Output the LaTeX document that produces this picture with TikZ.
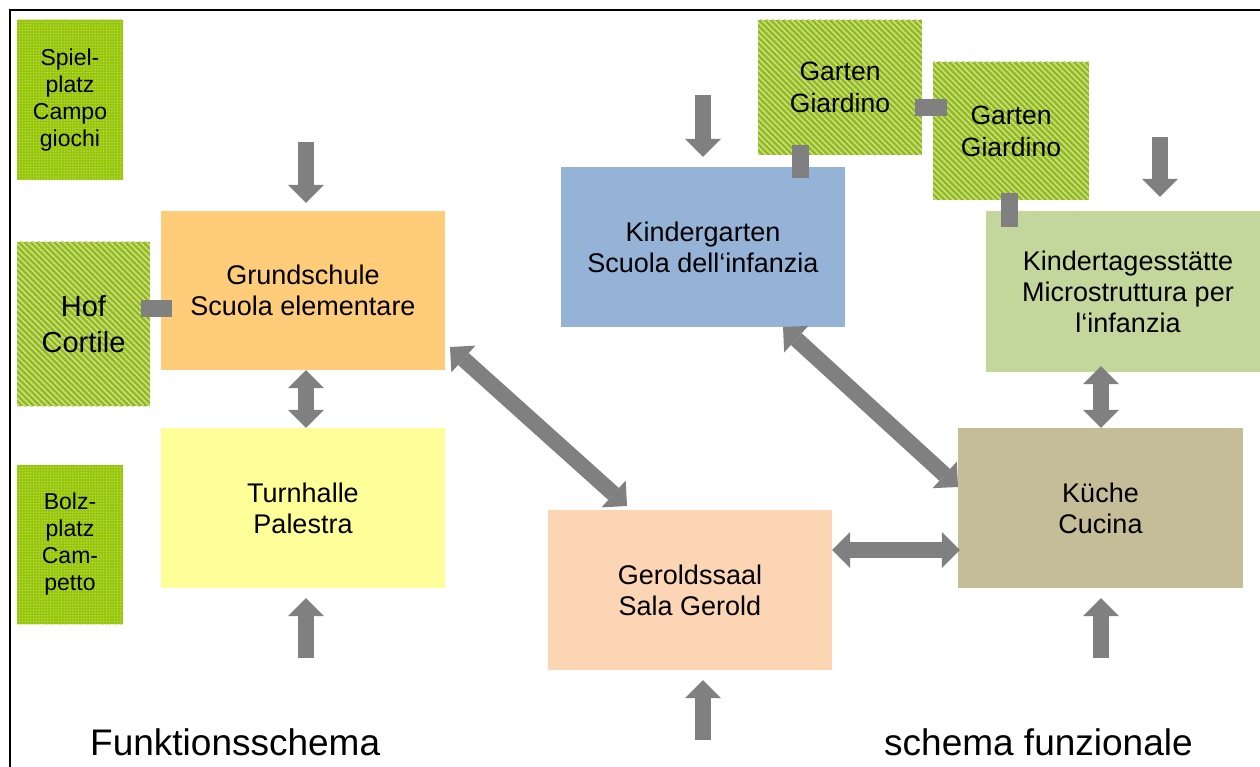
\documentclass[tikz,border=0pt]{standalone}
\usepackage{fontspec}
\setmainfont{Liberation Sans}
\usetikzlibrary{arrows.meta,patterns.meta}
\definecolor{gsorange}{HTML}{FFCC79}
\definecolor{thyellow}{HTML}{FFFF99}
\definecolor{kgblue}{HTML}{95B3D7}
\definecolor{kitagreen}{HTML}{C3D69B}
\definecolor{kuechetan}{HTML}{C4BD97}
\definecolor{geroldpeach}{HTML}{FCD5B5}
\definecolor{arrowgray}{HTML}{808080}
\definecolor{dotgreen}{HTML}{96C60A}
\definecolor{dotlight}{HTML}{BEDC50}
\definecolor{hatchgreen}{HTML}{88C016}
\definecolor{hatchlight}{HTML}{D6D68E}
\begin{document}
\begin{tikzpicture}[x=1pt,y=-1pt,
  box/.style={rectangle, inner sep=0pt, align=center, font=\fontsize{27}{31}\selectfont},
  dotbox/.style={box, preaction={fill=dotgreen}, pattern={Dots[radius=0.8pt, distance=2.8pt]}, pattern color=dotlight, font=\fontsize{23}{27}\selectfont},
  hatchbox/.style={box, preaction={fill=hatchgreen}, pattern={Lines[angle=-45, distance=4.2pt, line width=1.6pt]}, pattern color=hatchlight},
  stub/.style={draw=arrowgray, line width=17pt},
  barrow/.style={draw=arrowgray, line width=16pt, -{Triangle[length=18pt, width=36pt, line width=0pt]}},
  dbarrow/.style={draw=arrowgray, line width=16pt, {Triangle[length=18pt, width=36pt, line width=0pt]}-{Triangle[length=18pt, width=36pt, line width=0pt]}},
  caption/.style={inner sep=0pt, anchor=base west, font=\fontsize{37}{44}\selectfont}
]
\useasboundingbox (0,0) rectangle (1260,767);
\fill[white] (0,0) rectangle (1260,767);
\draw[line width=2pt] (1275,10) -- (10,10) -- (10,780);

% green outdoor areas
\node[dotbox, minimum width=106pt, minimum height=160pt] (spiel) at (70,100) {Spiel-\\platz\\Campo\\giochi};
\node[hatchbox, minimum width=133pt, minimum height=164pt, font=\fontsize{29}{36}\selectfont] (hof) at (83.5,324) {Hof\\Cortile};
\node[dotbox, minimum width=106pt, minimum height=159pt] (bolz) at (70,544.5) {Bolz-\\platz\\Cam-\\petto};
\node[hatchbox, minimum width=164pt, minimum height=135pt, font=\fontsize{26.5}{32}\selectfont] (g1) at (840,87.5) {Garten\\Giardino};
\node[hatchbox, minimum width=156pt, minimum height=138pt, font=\fontsize{26.5}{32}\selectfont] (g2) at (1011,131) {Garten\\Giardino};

% rooms
\node[box, fill=gsorange, minimum width=284pt, minimum height=159pt] (gs) at (303,290.5) {Grundschule\\Scuola elementare};
\node[box, fill=thyellow, minimum width=284pt, minimum height=160pt] (th) at (303,508) {Turnhalle\\Palestra};
\node[box, fill=kgblue, minimum width=284pt, minimum height=160pt] (kg) at (703,247) {Kindergarten\\Scuola dell‘infanzia};
\node[box, fill=kitagreen, minimum width=284pt, minimum height=161pt] (kita) at (1128,291.5) {Kindertagesstätte\\Microstruttura per\\l‘infanzia};
\node[box, fill=kuechetan, minimum width=285pt, minimum height=160pt] (kue) at (1100.5,508) {Küche\\Cucina};
\node[box, fill=geroldpeach, minimum width=284pt, minimum height=160pt] (ger) at (690,590) {Geroldssaal\\Sala Gerold};

% stubs between outdoor areas and rooms
\draw[stub, shorten <=-10pt, shorten >=-11pt] (hof.east |- 0,308) -- (gs.west |- 0,308);
\draw[stub, shorten <=-10pt, shorten >=-11pt] (g1.south -| 800,0) -- (kg.north -| 800,0);
\draw[stub, shorten <=-7pt, shorten >=-14pt] (g1.east |- 0,108) -- (g2.west |- 0,108);
\draw[stub, shorten <=-7pt, shorten >=-16pt] (g2.south -| 1009.5,0) -- (kita.north -| 1009.5,0);

% entrance arrows
\coordinate (in1) at (306,142);
\coordinate (in2) at (306,658);
\coordinate (in3) at (703,95);
\coordinate (in4) at (1160,137);
\coordinate (in5) at (1101,658);
\coordinate (in6) at (703,740);
\draw[barrow, shorten >=8pt] (in1) -- (gs.north -| in1);
\draw[barrow, shorten >=10pt] (in2) -- (th.south -| in2);
\draw[barrow, shorten >=10pt] (in3) -- (kg.north -| in3);
\draw[barrow, shorten >=14pt] (in4) -- (kita.north -| in4);
\draw[barrow, shorten >=10pt] (in5) -- (kue.south -| in5);
\draw[barrow, shorten >=10pt] (in6) -- (ger.south -| in6);

% double arrows
\draw[dbarrow] (gs.south -| in1) -- (th.north -| in1);
\draw[dbarrow, shorten <=-6pt] (kita.south -| in5) -- (kue.north -| in5);
\draw[dbarrow, shorten >=-2pt] (ger.east |- 0,550) -- (kue.west |- 0,550);
\coordinate (d1a) at (450,347);
\coordinate (d1b) at (627,506);
\coordinate (d2a) at (783,327);
\coordinate (d2b) at (958,487);
\draw[dbarrow] (d1a) -- (d1b);
\draw[dbarrow] (d2a) -- (d2b);

% captions
\node[caption] (capde) at (90,755) {Funktionsschema};
\node[caption] (capit) at (884,755) {schema funzionale};
\end{tikzpicture}
\end{document}
